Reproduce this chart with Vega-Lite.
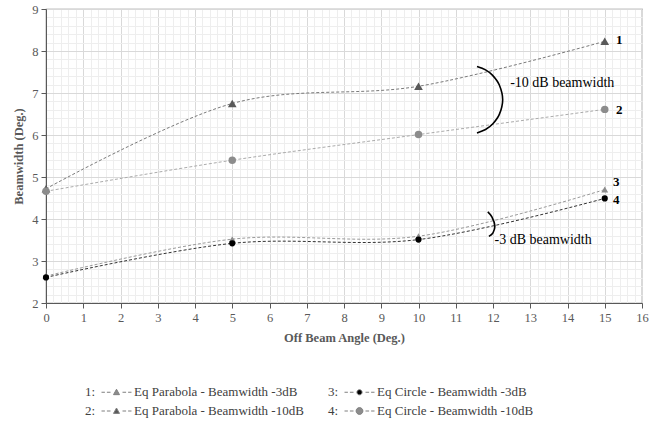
{
  "$schema": "https://vega.github.io/schema/vega-lite/v6.json",
  "width": 596,
  "height": 294,
  "autosize": {"type": "none"},
  "padding": {"left": 46, "top": 9, "right": 16, "bottom": 125},
  "background": "white",
  "config": {
    "font": "Liberation Serif, Times New Roman, serif",
    "text": {"font": "Liberation Serif, Times New Roman, serif"},
    "axis": {"labelFont": "Liberation Serif, Times New Roman, serif", "titleFont": "Liberation Serif, Times New Roman, serif"},
    "legend": {"labelFont": "Liberation Serif, Times New Roman, serif", "titleFont": "Liberation Serif, Times New Roman, serif"},
    "view": {"stroke": "#808080", "strokeWidth": 1.2}
  },
  "datasets": {
    "main": [
      {"x": 0, "y": 2.64, "s": "1: Eq Parabola - Beamwidth -3dB"},
      {"x": 5, "y": 3.52, "s": "1: Eq Parabola - Beamwidth -3dB"},
      {"x": 10, "y": 3.59, "s": "1: Eq Parabola - Beamwidth -3dB"},
      {"x": 15, "y": 4.70, "s": "1: Eq Parabola - Beamwidth -3dB"},
      {"x": 0, "y": 4.72, "s": "2: Eq Parabola - Beamwidth -10dB"},
      {"x": 5, "y": 6.75, "s": "2: Eq Parabola - Beamwidth -10dB"},
      {"x": 10, "y": 7.16, "s": "2: Eq Parabola - Beamwidth -10dB"},
      {"x": 15, "y": 8.23, "s": "2: Eq Parabola - Beamwidth -10dB"},
      {"x": 0, "y": 2.61, "s": "3: Eq Circle - Beamwidth -3dB"},
      {"x": 5, "y": 3.42, "s": "3: Eq Circle - Beamwidth -3dB"},
      {"x": 10, "y": 3.51, "s": "3: Eq Circle - Beamwidth -3dB"},
      {"x": 15, "y": 4.49, "s": "3: Eq Circle - Beamwidth -3dB"},
      {"x": 0, "y": 4.66, "s": "4: Eq Circle - Beamwidth -10dB"},
      {"x": 5, "y": 5.40, "s": "4: Eq Circle - Beamwidth -10dB"},
      {"x": 10, "y": 6.01, "s": "4: Eq Circle - Beamwidth -10dB"},
      {"x": 15, "y": 6.61, "s": "4: Eq Circle - Beamwidth -10dB"}
    ],
    "arcs": [
      {"a": "big", "i": 0, "x": 11.57, "y": 7.63},
      {"a": "big", "i": 1, "x": 11.80, "y": 7.55},
      {"a": "big", "i": 2, "x": 11.99, "y": 7.42},
      {"a": "big", "i": 3, "x": 12.17, "y": 7.19},
      {"a": "big", "i": 4, "x": 12.26, "y": 6.84},
      {"a": "big", "i": 5, "x": 12.17, "y": 6.49},
      {"a": "big", "i": 6, "x": 11.99, "y": 6.26},
      {"a": "big", "i": 7, "x": 11.80, "y": 6.13},
      {"a": "big", "i": 8, "x": 11.57, "y": 6.05},
      {"a": "small", "i": 0, "x": 11.86, "y": 4.17},
      {"a": "small", "i": 1, "x": 11.97, "y": 4.05},
      {"a": "small", "i": 2, "x": 12.05, "y": 3.84},
      {"a": "small", "i": 3, "x": 12.00, "y": 3.67},
      {"a": "small", "i": 4, "x": 11.89, "y": 3.585}
    ],
    "nums": [
      {"x": 15.3, "y": 8.27, "t": "1"},
      {"x": 15.3, "y": 6.6, "t": "2"},
      {"x": 15.22, "y": 4.87, "t": "3"},
      {"x": 15.22, "y": 4.46, "t": "4"}
    ],
    "notes": [
      {"x": 12.46, "y": 7.25, "t": "-10 dB beamwidth"},
      {"x": 12.04, "y": 3.49, "t": "-3 dB beamwidth"}
    ]
  },
  "layer": [
    {
      "data": {"name": "main"},
      "mark": {"type": "line", "interpolate": "cardinal", "strokeDash": [3, 2], "strokeWidth": 1},
      "encoding": {
        "x": {
          "field": "x", "type": "quantitative",
          "scale": {"domain": [0, 16], "nice": false},
          "axis": {
            "title": "Off Beam Angle (Deg.)",
            "tickCount": 80,
            "labelExpr": "abs(datum.value-round(datum.value))<1e-6 ? ''+round(datum.value) : ''",
            "labelOverlap": false,
            "labelFlush": false,
            "gridColor": {"condition": {"test": "abs(datum.value-round(datum.value))<1e-6", "value": "#d9d9d9"}, "value": "#eeeeee"},
            "tickColor": {"condition": {"test": "abs(datum.value-round(datum.value))<1e-6", "value": "#595959"}, "value": "transparent"},
            "tickSize": 5,
            "domainColor": "#595959",
            "labelColor": "#595959",
            "labelFontSize": 12.5,
            "labelPadding": 3,
            "titleFontSize": 12.5,
            "titleFontWeight": "bold",
            "titleColor": "#595959",
            "titlePadding": 8
          }
        },
        "y": {
          "field": "y", "type": "quantitative",
          "scale": {"domain": [2, 9], "nice": false},
          "axis": {
            "title": "Beamwidth (Deg.)",
            "tickCount": 35,
            "labelExpr": "abs(datum.value-round(datum.value))<1e-6 ? ''+round(datum.value) : ''",
            "labelOverlap": false,
            "labelFlush": false,
            "gridColor": {"condition": {"test": "abs(datum.value-round(datum.value))<1e-6", "value": "#d9d9d9"}, "value": "#eeeeee"},
            "tickColor": {"condition": {"test": "abs(datum.value-round(datum.value))<1e-6", "value": "#595959"}, "value": "transparent"},
            "tickSize": 5,
            "domainColor": "#595959",
            "labelColor": "#595959",
            "labelFontSize": 12.5,
            "labelPadding": 3,
            "titleFontSize": 12.5,
            "titleFontWeight": "bold",
            "titleColor": "#595959",
            "titlePadding": 6
          }
        },
        "detail": {"field": "s", "type": "nominal"},
        "stroke": {
          "condition": [
            {"test": "datum.s == '1: Eq Parabola - Beamwidth -3dB'", "value": "#9a9a9a"},
            {"test": "datum.s == '2: Eq Parabola - Beamwidth -10dB'", "value": "#7a7a7a"},
            {"test": "datum.s == '3: Eq Circle - Beamwidth -3dB'", "value": "#333333"}
          ],
          "value": "#ababab"
        }
      }
    },
    {
      "data": {"name": "main"},
      "mark": {"type": "point", "filled": true, "opacity": 1},
      "encoding": {
        "x": {"field": "x", "type": "quantitative"},
        "y": {"field": "y", "type": "quantitative"},
        "color": {
          "field": "s", "type": "nominal",
          "scale": {
            "domain": ["1: Eq Parabola - Beamwidth -3dB", "3: Eq Circle - Beamwidth -3dB", "2: Eq Parabola - Beamwidth -10dB", "4: Eq Circle - Beamwidth -10dB"],
            "range": ["#8c8c8c", "#000000", "#595959", "#8c8c8c"]
          },
          "legend": {
            "title": null, "orient": "none", "direction": "horizontal", "legendX": 22, "legendY": 376.5, "columns": 2, "columnPadding": 7, "rowPadding": 5, "symbolSize": 64,
            "symbolType": {"expr": "indexof(datum.value,'Parabola') >= 0 ? 'M6.75,0H7.6M8.1,0H9M12,0H12.9M13.4,0H14.25M10.5,-0.75L11.25,0.6L9.75,0.6Z' : (indexof(datum.value,'-3dB') >= 0 ? 'M6.75,0H7.6M8.1,0H9M12,0H12.9M13.4,0H14.25M9.85,0A0.65,0.65 0 1,0 11.15,0A0.65,0.65 0 1,0 9.85,0Z' : 'M6.75,0H7.6M8.1,0H9M12,0H12.9M13.4,0H14.25M9.65,0A0.85,0.85 0 1,0 11.35,0A0.85,0.85 0 1,0 9.65,0Z')"},
            "symbolStrokeWidth": 1,
            "symbolStrokeColor": "#7f7f7f",
            "labelFont": "Liberation Serif, Times New Roman, serif", "labelFontSize": 13, "labelColor": "#404040", "labelLimit": 400,
            "labelExpr": "slice(datum.label,0,2) + '\u00a0\u00a0\u00a0\u00a0\u00a0\u00a0\u00a0\u00a0\u00a0\u00a0\u00a0\u00a0' + slice(datum.label,3)",
            "encode": {
              "symbols": {
                "stroke": {"value": "#7f7f7f"},
                "strokeWidth": {"value": 1},
                "opacity": {"value": 1}
              }
            }
          }
        },
        "shape": {
          "condition": {"test": "indexof(datum.s, 'Parabola') >= 0", "value": "triangle-up"},
          "value": "circle"
        },
        "size": {
          "condition": [
            {"test": "datum.s == '1: Eq Parabola - Beamwidth -3dB'", "value": 48},
            {"test": "datum.s == '2: Eq Parabola - Beamwidth -10dB'", "value": 76},
            {"test": "datum.s == '3: Eq Circle - Beamwidth -3dB'", "value": 38}
          ],
          "value": 56
        }
      }
    },
    {
      "data": {"name": "arcs"},
      "mark": {"type": "line", "interpolate": "cardinal", "color": "#000000", "strokeWidth": 1.6},
      "encoding": {
        "x": {"field": "x", "type": "quantitative"},
        "y": {"field": "y", "type": "quantitative"},
        "detail": {"field": "a", "type": "nominal"},
        "order": {"field": "i", "type": "quantitative"}
      }
    },
    {
      "data": {"name": "nums"},
      "mark": {"type": "text", "align": "left", "baseline": "middle", "font": "Liberation Serif, Times New Roman, serif", "fontWeight": "bold", "fontSize": 13, "color": "#000000"},
      "encoding": {
        "x": {"field": "x", "type": "quantitative"},
        "y": {"field": "y", "type": "quantitative"},
        "text": {"field": "t"}
      }
    },
    {
      "data": {"name": "notes"},
      "mark": {"type": "text", "align": "left", "baseline": "middle", "font": "Liberation Serif, Times New Roman, serif", "fontSize": 14, "color": "#000000"},
      "encoding": {
        "x": {"field": "x", "type": "quantitative"},
        "y": {"field": "y", "type": "quantitative"},
        "text": {"field": "t"}
      }
    }
  ]
}
